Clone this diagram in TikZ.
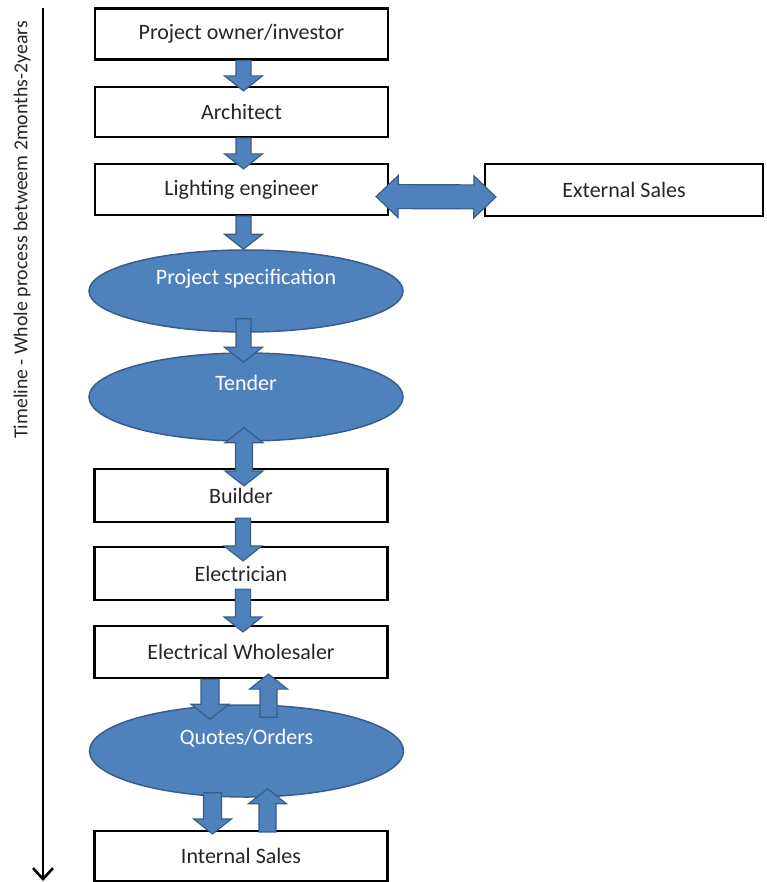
\documentclass[tikz,border=0pt]{standalone}
\usepackage{fontspec}
\setmainfont{Carlito}
\usetikzlibrary{calc,arrows.meta,shapes.geometric}

\definecolor{fillblue}{HTML}{4F81BD}
\definecolor{edgeblue}{HTML}{385D8A}
\definecolor{boxtext}{HTML}{262626}

% block arrow sizes
\newcommand\bashaft{7.5pt}
\newcommand\bawide{19pt}
\newcommand\balen{15pt}

\tikzset{
	ba shaft/.store in=\bashaft,
	ba wide/.store in=\bawide,
	ba len/.store in=\balen,
	stage/.style={draw=black, line width=2.2pt, minimum width=293pt, minimum height=51pt,
		inner sep=0pt, text=boxtext, font=\fontsize{22}{26}\selectfont},
	oval/.style={ellipse, draw=edgeblue, fill=fillblue, line width=1.5pt, minimum width=314pt,
		inner sep=0pt, text=white, font=\fontsize{22}{26}\selectfont,
		text height=16pt, text depth=29pt},
	fatarrow/.style={draw=edgeblue, fill=fillblue, line width=1.2pt,
		to path={($(\tikztostart)!\bashaft!90:(\tikztotarget)$)
			-- ($(\tikztotarget)!\balen!(\tikztostart)!\bashaft!90:(\tikztotarget)$)
			-- ($(\tikztotarget)!\balen!(\tikztostart)!\bawide!90:(\tikztotarget)$)
			-- (\tikztotarget)
			-- ($(\tikztotarget)!\balen!(\tikztostart)!\bawide!-90:(\tikztotarget)$)
			-- ($(\tikztotarget)!\balen!(\tikztostart)!\bashaft!-90:(\tikztotarget)$)
			-- ($(\tikztostart)!\bashaft!-90:(\tikztotarget)$) -- cycle}},
	twinarrow/.style={draw=edgeblue, fill=fillblue, line width=1.2pt,
		to path={(\tikztostart)
			-- ($(\tikztostart)!\balen!(\tikztotarget)!\bawide!90:(\tikztotarget)$)
			-- ($(\tikztostart)!\balen!(\tikztotarget)!\bashaft!90:(\tikztotarget)$)
			-- ($(\tikztotarget)!\balen!(\tikztostart)!\bashaft!90:(\tikztotarget)$)
			-- ($(\tikztotarget)!\balen!(\tikztostart)!\bawide!90:(\tikztotarget)$)
			-- (\tikztotarget)
			-- ($(\tikztotarget)!\balen!(\tikztostart)!\bawide!-90:(\tikztotarget)$)
			-- ($(\tikztotarget)!\balen!(\tikztostart)!\bashaft!-90:(\tikztotarget)$)
			-- ($(\tikztostart)!\balen!(\tikztotarget)!\bashaft!-90:(\tikztotarget)$)
			-- ($(\tikztostart)!\balen!(\tikztotarget)!\bawide!-90:(\tikztotarget)$)
			-- cycle}}
}

\begin{document}
\begin{tikzpicture}[x=1pt,y=-1pt]
	\useasboundingbox (0,0) rectangle (767,882);

	% timeline
	\coordinate (tltop) at (43,8);
	\coordinate (tlend) at (43,881);
	\draw[line width=2.6pt, -{Straight Barb[length=11pt,width=20pt]}] (tltop) -- (tlend);
	\node[rotate=90, text=boxtext, font=\fontsize{19.8}{23}\selectfont] (tllabel) at (22,230)
		{Timeline - Whole process betweem 2months-2years};

	% stages
	\node[stage] (owner) at (241.5,34) {Project owner/investor};
	\node[stage, minimum height=50pt] (arch) at (241.5,112) {Architect};
	\node[stage] (light) at (241.5,189.5) {Lighting engineer};
	\node[stage, minimum width=278pt, minimum height=52pt] (ext) at (624,190) {External Sales};
	\node[oval, minimum height=82pt] (spec) at (246,291) {Project specification};
	\node[oval, minimum height=88pt] (tender) at (246,397) {Tender};
	\node[stage, minimum height=53pt] (builder) at (241,495.5) {Builder};
	\node[stage, minimum height=53pt] (elec) at (241,573.5) {Electrician};
	\node[stage, minimum height=52pt] (whole) at (241,652) {Electrical Wholesaler};
	\node[oval, minimum height=92pt] (quotes) at (246.5,751) {Quotes/Orders};
	\node[stage, minimum height=50pt] (internal) at (241,856) {Internal Sales};

	% arrows
	\draw[fatarrow] ([xshift=2pt]owner.south) to ([xshift=2pt,yshift=-5pt]arch.north);
	\draw[fatarrow] ([xshift=2pt]arch.south) to ([xshift=2pt,yshift=-6pt]light.north);
	\draw[twinarrow, ba shaft=12pt, ba wide=21pt, ba len=22pt]
		([xshift=-13pt,yshift=-7pt]light.east) to ([xshift=12pt,yshift=-7pt]ext.west);
	\draw[fatarrow] ([xshift=2pt]light.south) to ([xshift=-2.5pt]spec.north);
	\draw[fatarrow] ([xshift=-2.5pt,yshift=14pt]spec.south) to ([xshift=-2.5pt,yshift=-10pt]tender.north);
	\draw[twinarrow, ba shaft=8.5pt] ([xshift=-2pt,yshift=14pt]tender.south) to ([xshift=3pt,yshift=-18pt]builder.north);
	\draw[fatarrow] ([xshift=2pt,yshift=5pt]builder.south) to ([xshift=2pt,yshift=-15pt]elec.north);
	\draw[fatarrow] ([xshift=2pt,yshift=12pt]elec.south) to ([xshift=2pt,yshift=-7pt]whole.north);
	\draw[fatarrow, ba shaft=9pt] ([xshift=-31pt]whole.south) to ([xshift=-36.5pt,yshift=-15pt]quotes.north);
	\draw[fatarrow, ba shaft=8.5pt] ([xshift=22pt,yshift=-13pt]quotes.north) to ([xshift=27.5pt,yshift=5pt]whole.south);
	\draw[fatarrow, ba shaft=9pt] ([xshift=-34pt,yshift=5pt]quotes.south) to ([xshift=-28.5pt,yshift=-4pt]internal.north);
	\draw[fatarrow, ba shaft=8.5pt] ([xshift=26.5pt,yshift=-2pt]internal.north) to ([xshift=21pt,yshift=9pt]quotes.south);
\end{tikzpicture}
\end{document}
